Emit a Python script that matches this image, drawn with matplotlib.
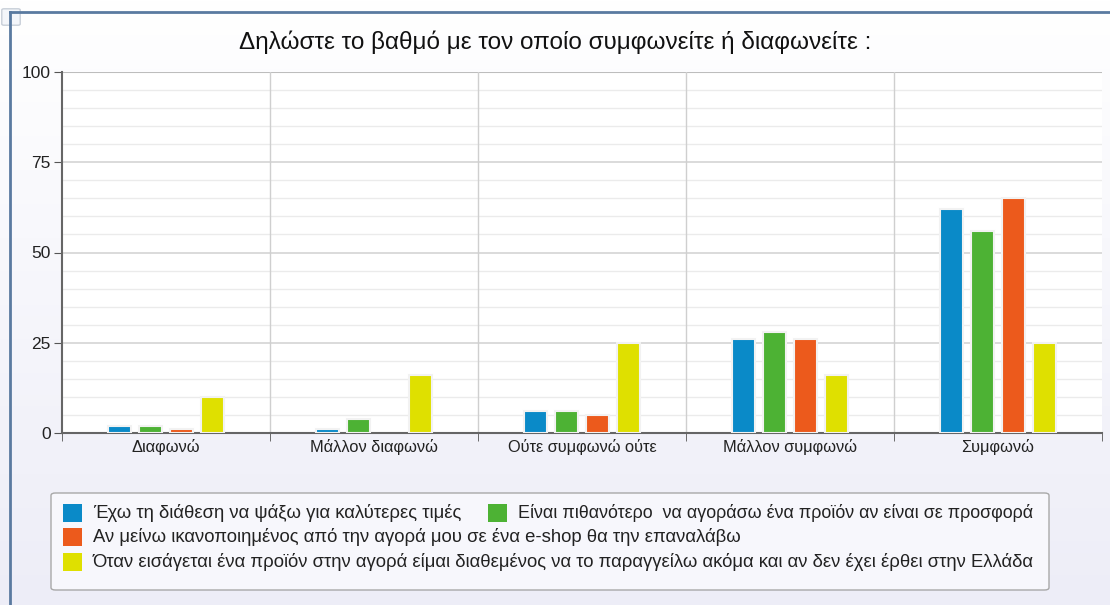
import numpy as np
import matplotlib
matplotlib.use("Agg")
import matplotlib.pyplot as plt
from matplotlib.patches import FancyBboxPatch, Rectangle
from matplotlib.lines import Line2D

plt.rcParams["font.family"] = ["Liberation Sans", "DejaVu Sans"]

# ============================
# DATA
# ============================
title = "Δηλώστε το βαθμό με τον οποίο συμφωνείτε ή διαφωνείτε :"
categories = ["Διαφωνώ", "Μάλλον διαφωνώ", "Ούτε συμφωνώ ούτε", "Μάλλον συμφωνώ", "Συμφωνώ"]
series_names = [
    "Έχω τη διάθεση να ψάξω για καλύτερες τιμές",
    "Είναι πιθανότερο  να αγοράσω ένα προϊόν αν είναι σε προσφορά",
    "Αν μείνω ικανοποιημένος από την αγορά μου σε ένα e-shop θα την επαναλάβω",
    "Όταν εισάγεται ένα προϊόν στην αγορά είμαι διαθεμένος να το παραγγείλω ακόμα και αν δεν έχει έρθει στην Ελλάδα",
]
values_price = [2, 1, 6, 26, 62]
values_offer = [2, 4, 6, 28, 56]
values_repeat = [1, 0, 5, 26, 65]
values_preorder = [10, 16, 25, 16, 25]
y_ticks = [0, 25, 50, 75, 100]

colors = ["#0a8ac8", "#4db234", "#ec5a1c", "#dfe000"]
all_values = [values_price, values_offer, values_repeat, values_preorder]

# ============================
# FIGURE + BACKGROUND
# ============================
W, H = 1110, 605
fig = plt.figure(figsize=(11.1, 6.05), dpi=100)
bg = fig.add_axes([0, 0, 1, 1], zorder=-10)
grad = np.linspace(0, 1, 256).reshape(-1, 1)
top_rgb = np.array([1.0, 1.0, 1.0])
bot_rgb = np.array([0.93, 0.93, 0.97])
img = top_rgb * (1 - grad[..., None]) + bot_rgb * grad[..., None]
bg.imshow(img, aspect="auto", extent=[0, 1, 0, 1])
bg.set_xlim(0, 1)
bg.set_ylim(0, 1)
bg.axis("off")

# frame edges of the panel
fig.add_artist(Line2D([10 / W, 10 / W], [0, 1 - 12 / H], color="#5a7aa0", lw=2))
fig.add_artist(Line2D([10 / W, 1], [1 - 12 / H, 1 - 12 / H], color="#5a7aa0", lw=2))
fig.add_artist(FancyBboxPatch((4 / W, 1 - 24 / H), 14 / W, 14 / H,
                              boxstyle="round,pad=0.002", fc="#f4f6fa", ec="#c8cfd8", lw=1))

# ============================
# BARS
# ============================
ax = fig.add_axes([62 / W, 1 - 433 / H, 1040 / W, 361 / H])
ax.set_facecolor("white")

x = np.arange(len(categories))
step = 0.15
width = 0.11
offsets = (np.arange(4) - 1.5) * step
for i, vals in enumerate(all_values):
    vals = np.array(vals, dtype=float)
    keep = vals > 0
    ax.bar(x[keep] + offsets[i] + 0.005, vals[keep], width, color="#dcdcdc", zorder=2)
    ax.bar(x[keep] + offsets[i], vals[keep], width, color=colors[i], edgecolor="#f2f2f2",
           linewidth=1.5, zorder=3)

ax.set_xlim(-0.5, len(categories) - 0.5)
ax.set_ylim(0, 100)

# grid
for v in range(0, 101, 5):
    if v % 25 == 0:
        ax.axhline(v, color="#d4d4d4", lw=1.2, zorder=1)
    else:
        ax.axhline(v, color="#ebebeb", lw=1.0, zorder=1)
ax.axhline(100, color="#bdbdbd", lw=1.5, zorder=1)
for b in np.arange(0.5, len(categories) - 0.5, 1):
    ax.axvline(b, color="#cfcfcf", lw=1.0, zorder=1)

ax.set_yticks(y_ticks)
ax.set_yticklabels([str(t) for t in y_ticks], fontsize=12.5, color="#222222")
ax.set_xticks(x)
ax.set_xticklabels(categories, fontsize=11.8, color="#222222")
ax.tick_params(axis="x", length=0, pad=4)
ax.set_xticks(np.arange(-0.5, len(categories)), minor=True)
ax.tick_params(axis="x", which="minor", length=6, color="#555555", direction="out")
ax.tick_params(axis="y", length=6, color="#555555", direction="out", pad=2)

for s in ["top", "right"]:
    ax.spines[s].set_visible(False)
ax.spines["left"].set_color("#666666")
ax.spines["left"].set_linewidth(1.5)
ax.spines["bottom"].set_color("#666666")
ax.spines["bottom"].set_linewidth(1.5)

fig.text(0.5, 1 - 42 / H, title, ha="center", va="center", fontsize=17.5, color="#111111")

# ============================
# LEGEND (flowing rows)
# ============================
fig.add_artist(FancyBboxPatch((51 / W, 1 - 590 / H), 998 / W, 97 / H,
                              boxstyle="round,pad=0,rounding_size=0.004",
                              fc="#f7f7fc", ec="#a8a8a8", lw=1.0, transform=fig.transFigure))

legend_slots = [(63, 513), (488, 513), (63, 537), (63, 562)]
legend_sizes = [13.3, 12.9, 13.3, 13.3]
for (lx, ly), name, c, fs in zip(legend_slots, series_names, colors, legend_sizes):
    fig.add_artist(Rectangle((lx / W, 1 - (ly + 9) / H), 19 / W, 18 / H,
                             fc=c, ec="none", transform=fig.transFigure))
    fig.text((lx + 30) / W, 1 - ly / H, name, ha="left", va="center",
             fontsize=fs, color="#222222")

fig.savefig("out.png", dpi=100)
